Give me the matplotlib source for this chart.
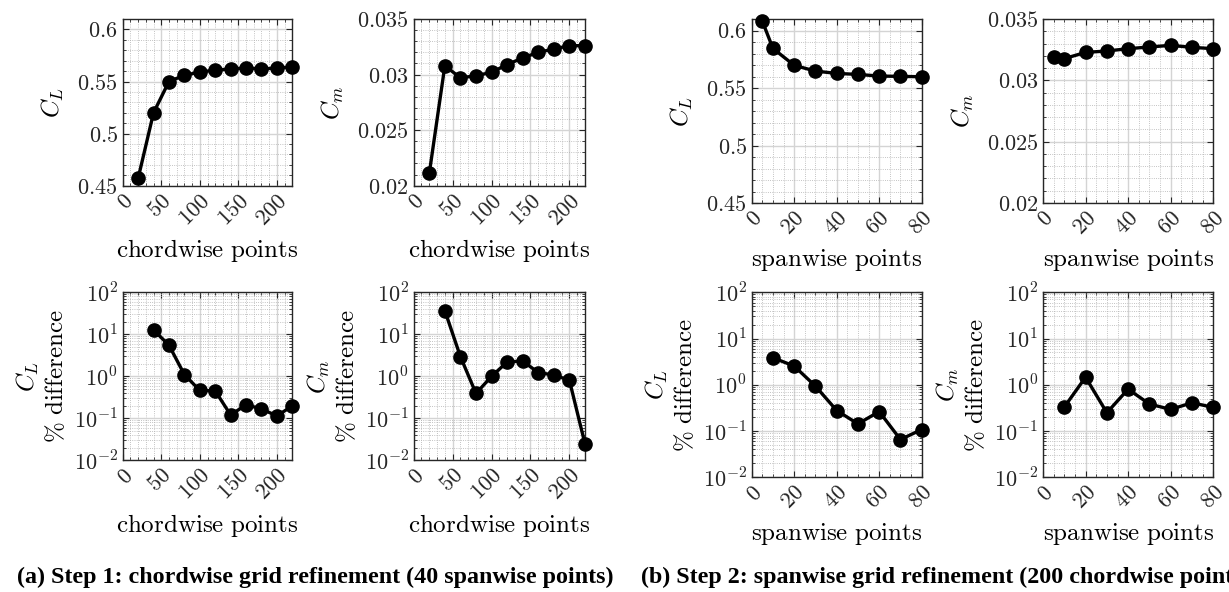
import numpy as np
import matplotlib
matplotlib.use("Agg")
import matplotlib.pyplot as plt
from matplotlib.ticker import MultipleLocator, FixedLocator, FuncFormatter, LogLocator, NullFormatter

plt.rcParams['mathtext.fontset'] = 'cm'

#########################
# DATA
#########################
chord_n = [20, 40, 60, 80, 100, 120, 140, 160, 180, 200, 220]
chord_CL = [0.457, 0.520, 0.550, 0.556, 0.559, 0.561, 0.562, 0.563, 0.562, 0.563, 0.564]
chord_Cm = [0.0211, 0.0308, 0.0297, 0.0299, 0.0302, 0.0309, 0.0315, 0.0320, 0.0323, 0.0326, 0.0326]
chord_CL_diff = [12.7, 5.5, 1.1, 0.46, 0.45, 0.12, 0.21, 0.167, 0.114, 0.197]
chord_Cm_diff = [36.5, 2.94, 0.39, 1.0, 2.19, 2.32, 1.22, 1.08, 0.80, 0.0245]

span_n = [5, 10, 20, 30, 40, 50, 60, 70, 80]
span_CL = [0.6081, 0.5844, 0.5697, 0.5647, 0.5627, 0.5618, 0.5604, 0.5601, 0.5598]
span_Cm = [0.0319, 0.03177, 0.03228, 0.03239, 0.03258, 0.03272, 0.03285, 0.03269, 0.03258]
span_CL_diff = [3.85, 2.54, 0.935, 0.278, 0.143, 0.264, 0.0655, 0.108]
span_Cm_diff = [0.33, 1.46, 0.249, 0.806, 0.383, 0.294, 0.409, 0.324]

#########################
# LAYOUT (pixels: left, right, top, bottom)
#########################
W, H = 1229, 592
BOXES = {
    'cl_c':  (122.7, 292.3, 19.0, 185.7),
    'cm_c':  (413.7, 585.0, 19.0, 185.7),
    'cl_s':  (751.7, 921.7, 19.0, 203.0),
    'cm_s':  (1043.0, 1213.3, 19.0, 203.0),
    'dcl_c': (122.7, 292.3, 292.3, 460.3),
    'dcm_c': (413.7, 585.0, 292.3, 460.3),
    'dcl_s': (751.7, 921.7, 292.3, 477.3),
    'dcm_s': (1043.0, 1213.3, 292.3, 477.3),
}
AX_COLOR = '#262626'
LBL_SIZE = 18
TICK_SIZE = 16


def mathfmt(v, pos):
    return r'$%g$' % v


def logfmt(v, pos):
    return r'$10^{%d}$' % int(round(np.log10(v)))


def make_axes(fig, key):
    l, r, t, b = BOXES[key]
    ax = fig.add_axes([l / W, 1 - b / H, (r - l) / W, (b - t) / H])
    for s in ax.spines.values():
        s.set_color(AX_COLOR)
        s.set_linewidth(1.0)
    ax.tick_params(which='both', direction='in', top=True, right=True,
                   colors=AX_COLOR, labelsize=TICK_SIZE)
    ax.tick_params(which='major', length=4)
    ax.tick_params(which='minor', length=2)
    ax.grid(True, which='major', color='#d4d4d4', linewidth=1.0)
    ax.grid(True, which='minor', color='#b0b0b0', linestyle=':', linewidth=0.6)
    ax.set_axisbelow(True)
    return ax


def style_x(ax, xmax, major, minor, label):
    ax.set_xlim(0, xmax)
    ax.xaxis.set_major_locator(MultipleLocator(major))
    ax.xaxis.set_minor_locator(MultipleLocator(minor))
    ax.xaxis.set_major_formatter(FuncFormatter(mathfmt))
    for t in ax.get_xticklabels():
        t.set_rotation(45)
        t.set_ha('right')
        t.set_rotation_mode('anchor')
    ax.set_xlabel(r'$\mathrm{' + label + r'}$', fontsize=LBL_SIZE, labelpad=6)


def style_lin_y(ax, lo, hi, major, minor, label):
    ax.set_ylim(lo, hi)
    ax.yaxis.set_major_locator(FixedLocator(np.arange(lo, hi + 1e-9, major)))
    ax.yaxis.set_minor_locator(MultipleLocator(minor))
    ax.yaxis.set_major_formatter(FuncFormatter(mathfmt))
    ax.set_ylabel(label, fontsize=LBL_SIZE, labelpad=8)


def style_log_y(ax, label):
    ax.set_yscale('log')
    ax.set_ylim(1e-2, 1e2)
    ax.yaxis.set_major_locator(LogLocator(base=10, numticks=10))
    ax.yaxis.set_minor_locator(LogLocator(base=10, subs=np.arange(2, 10), numticks=20))
    ax.yaxis.set_major_formatter(FuncFormatter(logfmt))
    ax.yaxis.set_minor_formatter(NullFormatter())
    ax.set_ylabel(label + '\n' + r'$\%\ \mathrm{difference}$', fontsize=LBL_SIZE,
                  linespacing=1.15)


def draw(ax, x, y):
    ax.plot(x, y, color='black', linewidth=2.4, marker='o', markersize=9.5,
            clip_on=False, zorder=5)


fig = plt.figure(figsize=(W / 100, H / 100), dpi=100)

# step 1: chordwise refinement
ax = make_axes(fig, 'cl_c')
draw(ax, chord_n, chord_CL)
style_lin_y(ax, 0.45, 0.61, 0.05, 0.01, r'$C_L$')
style_x(ax, 220, 50, 10, r'chordwise\ points')

ax = make_axes(fig, 'cm_c')
draw(ax, chord_n, chord_Cm)
style_lin_y(ax, 0.02, 0.035, 0.005, 0.001, r'$C_m$')
style_x(ax, 220, 50, 10, r'chordwise\ points')

ax = make_axes(fig, 'dcl_c')
draw(ax, chord_n[1:], chord_CL_diff)
style_log_y(ax, r'$C_L$')
style_x(ax, 220, 50, 10, r'chordwise\ points')

ax = make_axes(fig, 'dcm_c')
draw(ax, chord_n[1:], chord_Cm_diff)
style_log_y(ax, r'$C_m$')
style_x(ax, 220, 50, 10, r'chordwise\ points')

# step 2: spanwise refinement
ax = make_axes(fig, 'cl_s')
draw(ax, span_n, span_CL)
style_lin_y(ax, 0.45, 0.61, 0.05, 0.01, r'$C_L$')
style_x(ax, 80, 20, 5, r'spanwise\ points')

ax = make_axes(fig, 'cm_s')
draw(ax, span_n, span_Cm)
style_lin_y(ax, 0.02, 0.035, 0.005, 0.001, r'$C_m$')
style_x(ax, 80, 20, 5, r'spanwise\ points')

ax = make_axes(fig, 'dcl_s')
draw(ax, span_n[1:], span_CL_diff)
style_log_y(ax, r'$C_L$')
style_x(ax, 80, 20, 5, r'spanwise\ points')

ax = make_axes(fig, 'dcm_s')
draw(ax, span_n[1:], span_Cm_diff)
style_log_y(ax, r'$C_m$')
style_x(ax, 80, 20, 5, r'spanwise\ points')

# sub-captions
cap_kw = dict(fontsize=17.3, fontweight='bold', family='Liberation Serif',
              va='center', ha='left')
fig.text(17 / W, 1 - 577 / H, '(a) Step 1: chordwise grid refinement (40 spanwise points)', **cap_kw)
fig.text(641 / W, 1 - 577 / H, '(b) Step 2: spanwise grid refinement (200 chordwise points)', **cap_kw)

fig.savefig('out.png', dpi=100)
